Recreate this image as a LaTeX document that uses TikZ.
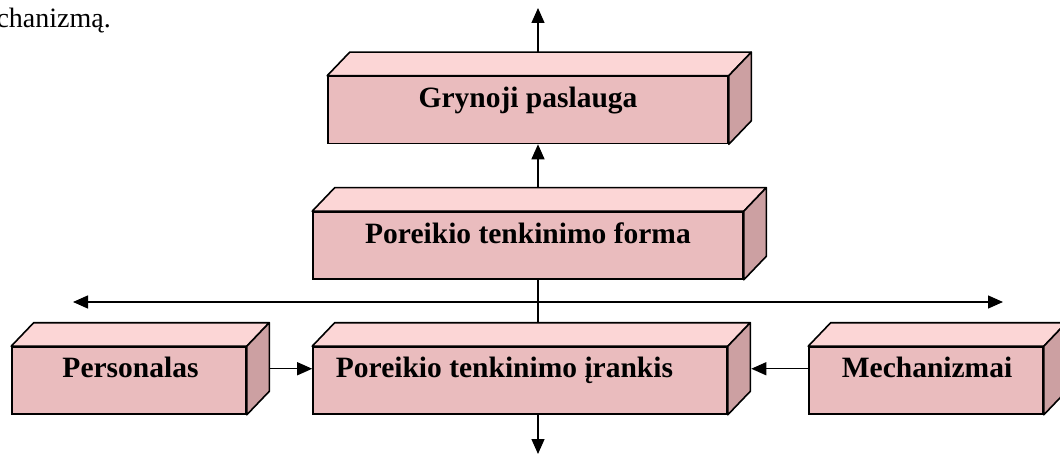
\documentclass[tikz,border=0pt]{standalone}
\usepackage{fontspec}
\setmainfont{Liberation Serif}
\usetikzlibrary{arrows.meta,calc}
\definecolor{frontc}{RGB}{234,188,190}
\definecolor{topc}{RGB}{252,214,214}
\definecolor{sidec}{RGB}{204,160,162}
\tikzset{
  front/.style={draw, line width=1.6pt, fill=frontc, inner sep=0pt, minimum height=67pt},
  lbl/.style={font=\fontsize{29.5}{32}\selectfont\bfseries, anchor=base, inner sep=0pt},
  conn/.style={line width=1.4pt, -{Triangle[width=13pt,length=15pt]}},
  conn2/.style={line width=1.4pt, {Triangle[width=13pt,length=15pt]}-{Triangle[width=13pt,length=15pt]}},
  plainline/.style={line width=1.4pt}
}
\newcommand{\cubefaces}[1]{%
  \filldraw[fill=topc, line width=1.6pt, line join=round]
    (#1.north west) -- ++(22.5,-23.5) -- ($(#1.north east)+(22.5,-23.5)$) -- (#1.north east) -- cycle;
  \filldraw[fill=sidec, line width=1.6pt, line join=round]
    (#1.north east) -- ++(22.5,-23.5) -- ($(#1.south east)+(22.5,-23.5)$) -- (#1.south east) -- cycle;
}
\begin{document}
\begin{tikzpicture}[x=1pt,y=-1pt]
\useasboundingbox (0,0) rectangle (1060,454);
\clip (0,0) rectangle (1060,454);
\fill[white] (0,0) rectangle (1060,454);

% text fragment at the top-left
\node[anchor=base east, inner sep=0pt, font=\fontsize{28}{30}\selectfont] (frag) at (111,28) {chanizmą.};

% boxes (front faces)
\node[front, minimum width=400pt] (top) at (528,110) {};
\node[front, minimum width=430pt] (forma) at (528,245.5) {};
\node[front, minimum width=414pt] (irankis) at (520,380.5) {};
\node[front, minimum width=234pt] (pers) at (129,380.5) {};
\node[front, minimum width=234pt] (mech) at (926,380.5) {};

\cubefaces{top}
\cubefaces{forma}
\cubefaces{irankis}
\cubefaces{pers}
\cubefaces{mech}

% labels
\node[lbl] (ltop) at ($(top.north)+(0,32)$) {Grynoji paslauga};
\node[lbl] (lforma) at ($(forma.north)+(0,32)$) {Poreikio tenkinimo forma};
\node[lbl] (lirankis) at ($(irankis.north)+(-15.5,31.5)$) {Poreikio tenkinimo įrankis};
\node[lbl] (lpers) at ($(pers.north)+(1.5,31.5)$) {Personalas};
\node[lbl] (lmech) at ($(mech.north)+(1,31.5)$) {Mechanizmai};

% connectors
\coordinate (v) at (538,0);
\coordinate (ttip) at (538,8);
\coordinate (btip) at (538,454);
\coordinate (hl) at (73,302);
\coordinate (hr) at (1003,302);

\draw[conn] ([yshift=23.5pt]top.north -| v) -- (ttip);
\draw[conn] ([yshift=23.5pt]forma.north -| v) -- (top.south -| v);
\draw[plainline] (forma.south -| v) -- ([yshift=23.5pt]irankis.north -| v);
\draw[conn2] (hl) -- (hr);
\draw[conn] (irankis.south -| v) -- (btip);

\coordinate (pa) at ([shift={(22.5pt,11.75pt)}]pers.east);
\draw[conn] (pa) -- (pa -| irankis.west);
\draw[conn] (mech.west |- pa) -- ($(irankis.east |- pa)+(23.5,0)$);
\end{tikzpicture}
\end{document}
